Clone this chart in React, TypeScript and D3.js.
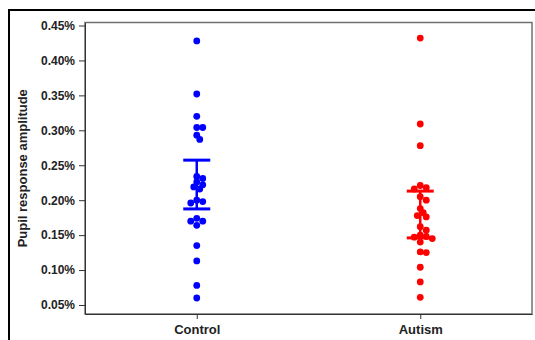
import { useEffect, useRef } from "react";
import * as d3 from "d3";

const groups = ["Control", "Autism"];
const groupColors = ["#0000ff", "#ff0000"];

const controlValues = [
  0.428, 0.352, 0.32, 0.304, 0.304, 0.293, 0.287, 0.234, 0.231, 0.226, 0.222,
  0.219, 0.216, 0.2, 0.198, 0.196, 0.174, 0.17, 0.17, 0.164, 0.135, 0.113,
  0.078, 0.06,
];
const autismValues = [
  0.432, 0.309, 0.278, 0.221, 0.218, 0.216, 0.205, 0.2, 0.188, 0.182, 0.178,
  0.176, 0.162, 0.157, 0.15, 0.148, 0.147, 0.145, 0.14, 0.126, 0.125, 0.104,
  0.083, 0.061,
];

// error bar ends (lower, upper)
const errLow = [0.1875, 0.146];
const errHigh = [0.2573, 0.213];

const yTicks = [0.05, 0.1, 0.15, 0.2, 0.25, 0.3, 0.35, 0.4, 0.45];

const yLabel = "Pupil response amplitude";

export default function App() {
  const width = 535;
  const height = 340;
  const marginTop = 22.5;
  const marginRight = 3;
  const marginBottom = 26;
  const marginLeft = 85;
  const ref = useRef<SVGSVGElement>(null);

  useEffect(() => {
    const svg = d3.select(ref.current);
    svg.selectAll("*").remove();

    const font = "'Liberation Sans', Arial, sans-serif";

    const x = d3
      .scalePoint()
      .domain(groups)
      .range([marginLeft, width - marginRight])
      .padding(0.5);

    const y = d3
      .scaleLinear()
      .domain([0.0371, 0.4543])
      .range([height - marginBottom, marginTop]);

    // outer frame (runs off the right and bottom edge)
    svg
      .append("rect")
      .attr("x", 9)
      .attr("y", 10)
      .attr("width", width + 20)
      .attr("height", height + 20)
      .attr("fill", "none")
      .attr("stroke", "#000")
      .attr("stroke-width", 2);

    // plot box
    svg
      .append("rect")
      .attr("x", marginLeft)
      .attr("y", marginTop)
      .attr("width", width - marginRight - marginLeft)
      .attr("height", height - marginBottom - marginTop)
      .attr("fill", "none")
      .attr("stroke", "#707070")
      .attr("stroke-width", 1.5);

    // y axis
    svg
      .append("g")
      .attr("transform", `translate(${marginLeft},0)`)
      .call(
        d3
          .axisLeft(y)
          .tickValues(yTicks)
          .tickSize(6)
          .tickSizeOuter(0)
          .tickPadding(4)
          .tickFormat((d) => (d as number).toFixed(2) + "%"),
      )
      .call((g) => g.select(".domain").attr("stroke", "#333"))
      .call((g) => g.selectAll(".tick line").attr("stroke", "#333"))
      .call((g) =>
        g
          .selectAll(".tick text")
          .attr("fill", "#222")
          .style("font-family", font)
          .style("font-weight", "bold")
          .style("font-size", "12px"),
      );

    // x axis
    svg
      .append("g")
      .attr("transform", `translate(0,${height - marginBottom})`)
      .call(d3.axisBottom(x).tickSize(5).tickSizeOuter(0).tickPadding(6))
      .call((g) => g.select(".domain").attr("stroke", "#333"))
      .call((g) => g.selectAll(".tick line").attr("stroke", "#333"))
      .call((g) =>
        g
          .selectAll(".tick text")
          .attr("fill", "#222")
          .style("font-family", font)
          .style("font-weight", "bold")
          .style("font-size", "13px"),
      );

    // y label
    svg
      .append("text")
      .attr("transform", `translate(27,${(marginTop + height - marginBottom) / 2}) rotate(-90)`)
      .attr("text-anchor", "middle")
      .attr("fill", "#222")
      .style("font-family", font)
      .style("font-weight", "bold")
      .style("font-size", "13px")
      .text(yLabel);

    // simple swarm layout
    const r = 3.4;
    const minDist = 5;
    const step = 3;
    const swarm = (vals: number[], cx: number) => {
      const placed: { x: number; y: number }[] = [];
      vals.forEach((v) => {
        const cy = y(v);
        for (let k = 0; k < 20; k++) {
          const off = k === 0 ? 0 : (k % 2 === 1 ? 1 : -1) * Math.ceil(k / 2) * step;
          const px = cx + off;
          const ok = placed.every(
            (p) => Math.hypot(p.x - px, p.y - cy) >= minDist,
          );
          if (ok) {
            placed.push({ x: px, y: cy });
            break;
          }
        }
      });
      return placed;
    };

    [controlValues, autismValues].forEach((vals, i) => {
      const cx = x(groups[i]) as number;
      const color = groupColors[i];
      const g = svg.append("g");

      // error bar (under the dots)
      const capW = 13.5;
      g.append("line")
        .attr("x1", cx)
        .attr("x2", cx)
        .attr("y1", y(errLow[i]))
        .attr("y2", y(errHigh[i]))
        .attr("stroke", color)
        .attr("stroke-width", 2.5);
      [errLow[i], errHigh[i]].forEach((v) => {
        g.append("line")
          .attr("x1", cx - capW)
          .attr("x2", cx + capW)
          .attr("y1", y(v))
          .attr("y2", y(v))
          .attr("stroke", color)
          .attr("stroke-width", 3);
      });

      const pts = swarm(vals, cx);
      g.selectAll("circle")
        .data(pts)
        .enter()
        .append("circle")
        .attr("cx", (d) => d.x)
        .attr("cy", (d) => d.y)
        .attr("r", r)
        .attr("fill", color);
    });
  }, []);

  return (
    <svg
      ref={ref}
      width={width}
      height={height}
      style={{ position: "absolute", left: 0, top: 0, background: "#fff" }}
    />
  );
}
